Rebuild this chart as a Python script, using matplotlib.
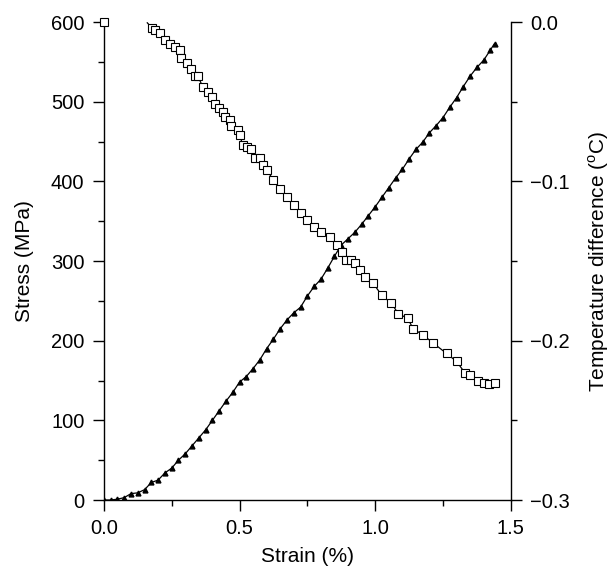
import matplotlib
matplotlib.use("Agg")
import matplotlib.pyplot as plt
from matplotlib.ticker import MultipleLocator, FixedLocator, FuncFormatter

plt.rcParams['font.family'] = ['Liberation Sans', 'DejaVu Sans']
plt.rcParams['font.size'] = 14.5

# Stress-strain data (triangles)
strain_s = [0.0, 0.025, 0.05, 0.075, 0.1, 0.125, 0.15, 0.175, 0.2, 0.225, 0.25, 0.275,
            0.3, 0.325, 0.35, 0.375, 0.4, 0.425, 0.45, 0.475, 0.5, 0.525, 0.55, 0.575,
            0.6, 0.625, 0.65, 0.675, 0.7, 0.725, 0.75, 0.775, 0.8, 0.825, 0.85, 0.875,
            0.9, 0.925, 0.95, 0.975, 1.0, 1.025, 1.05, 1.075, 1.1, 1.125, 1.15, 1.175,
            1.2, 1.225, 1.25, 1.275, 1.3, 1.325, 1.35, 1.375, 1.4, 1.425, 1.44]
stress = [0, 0, 1, 3, 8, 9, 13, 22, 25, 34, 40, 50,
          58, 68, 78, 88, 100, 112, 124, 135, 148, 155, 165, 176,
          190, 202, 215, 226, 235, 242, 256, 268, 277, 291, 306, 320,
          328, 336, 346, 357, 368, 380, 392, 404, 415, 428, 440, 449,
          461, 470, 480, 493, 505, 519, 532, 543, 552, 565, 573]

# Temperature difference data (open squares)
strain_t0 = [0.0]
temp_t0 = [0.0]
strain_t = [0.176, 0.19, 0.206, 0.225, 0.243, 0.262, 0.28, 0.286, 0.305, 0.32, 0.335,
            0.347, 0.365, 0.383, 0.40, 0.41, 0.425, 0.44, 0.446, 0.464, 0.47, 0.494,
            0.50, 0.513, 0.526, 0.544, 0.557, 0.575, 0.586, 0.60, 0.625, 0.65, 0.675,
            0.70, 0.725, 0.75, 0.775, 0.80, 0.833, 0.858, 0.876, 0.894, 0.91, 0.925,
            0.944, 0.962, 0.993, 1.024, 1.06, 1.085, 1.12, 1.14, 1.177, 1.214, 1.263,
            1.30, 1.33, 1.35, 1.38, 1.40, 1.42, 1.44]
temp = [-0.0035, -0.005, -0.007, -0.011, -0.014, -0.016, -0.0175, -0.0225, -0.0255,
        -0.0295, -0.034, -0.034, -0.041, -0.044, -0.047, -0.0515, -0.054, -0.0565,
        -0.0595, -0.0615, -0.065, -0.068, -0.071, -0.0775, -0.0785, -0.080, -0.0855,
        -0.0855, -0.090, -0.093, -0.099, -0.1045, -0.110, -0.115, -0.120, -0.1245,
        -0.1285, -0.1315, -0.135, -0.140, -0.1445, -0.1495, -0.1495, -0.151, -0.1555,
        -0.160, -0.164, -0.1715, -0.1765, -0.183, -0.186, -0.1925, -0.1965, -0.2015,
        -0.208, -0.213, -0.220, -0.2215, -0.225, -0.2265, -0.227, -0.2265]

fig = plt.figure(figsize=(6.11, 5.70), dpi=100)
ax = fig.add_axes([0.170, 0.1228, 0.666, 0.8386])
ax2 = ax.twinx()

ax.plot(strain_s, stress, color='black', lw=0.9, marker='^', ms=3.5,
        mfc='black', mec='black', zorder=3)
ax2.plot(strain_t, temp, color='black', lw=0.9, marker='s', ms=5.5,
         mfc='white', mec='black', mew=0.8, zorder=3)
ax2.plot([0.16, strain_t[0]], [-0.0005, temp[0]], color='black', lw=0.9)
ax2.plot(strain_t0, temp_t0, ls='none', marker='s', ms=5.5, mfc='white',
         mec='black', mew=0.8, clip_on=False)

ax.set_xlim(0, 1.5)
ax.set_ylim(0, 600)
ax2.set_ylim(-0.3, 0.0)

ax.xaxis.set_major_locator(MultipleLocator(0.5))
ax.xaxis.set_minor_locator(MultipleLocator(0.25))
ax.yaxis.set_major_locator(MultipleLocator(100))
ax.yaxis.set_minor_locator(MultipleLocator(50))
ax2.yaxis.set_major_locator(FixedLocator([-0.3, -0.2, -0.1, 0.0]))
ax2.yaxis.set_minor_locator(FixedLocator([-0.25, -0.15, -0.05]))

ax.xaxis.set_major_formatter(FuncFormatter(lambda v, p: f"{v:.1f}"))
ax2.yaxis.set_major_formatter(FuncFormatter(
    lambda v, p: "0.0" if abs(v) < 1e-9 else f"\u2212{abs(v):.1f}"))

for a in (ax, ax2):
    a.spines['top'].set_visible(False)
    for s in a.spines.values():
        s.set_linewidth(1.0)
    a.tick_params(which='major', direction='out', length=8, width=1.0,
                  labelsize=14.5, pad=6)
    a.tick_params(which='minor', direction='out', length=4, width=1.0)
ax.spines['right'].set_visible(False)
ax2.spines['left'].set_visible(False)
ax2.spines['bottom'].set_visible(False)

ax.set_xlabel("Strain (%)", fontsize=15)
ax.set_ylabel("Stress (MPa)", fontsize=15)
ax2.set_ylabel("Temperature difference ($^{\\mathregular{o}}$C)", fontsize=15,
               rotation=90)
ax.xaxis.set_label_coords(0.5, -0.098)
ax.yaxis.set_label_coords(-0.172, 0.5)
ax2.yaxis.set_label_coords(1.185, 0.5)

fig.savefig("out.png", dpi=100)
